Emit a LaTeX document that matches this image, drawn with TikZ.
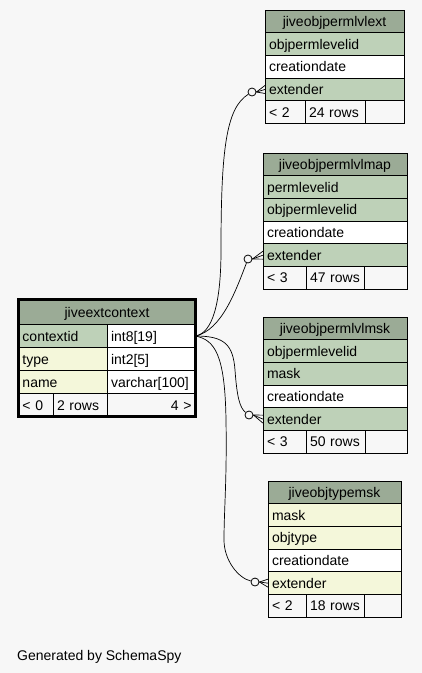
\documentclass[tikz,border=0pt]{standalone}
\usepackage{fontspec}
\setmainfont{Liberation Sans}
\definecolor{bggray}{HTML}{F7F7F7}
\definecolor{hdrgray}{HTML}{9BAB96}
\definecolor{pkgreen}{HTML}{BED1B8}
\definecolor{idxyellow}{HTML}{F4F7DA}
\tikzset{
  cell/.style={draw, line width=0.8pt, anchor=north west, inner xsep=4pt, inner ysep=0pt,
    outer sep=0pt, minimum height=22.7pt, text height=12pt, text depth=2pt, align=left},
  hdr/.style={cell, fill=hdrgray, align=center},
  pk/.style={cell, fill=pkgreen},
  idx/.style={cell, fill=idxyellow},
  plain/.style={cell, fill=white},
  foot/.style={cell, fill=bggray},
  zeroopt/.style={circle, draw, line width=0.8pt, inner sep=0pt, minimum size=8pt},
  rel/.style={line width=0.7pt}
}
\begin{document}
\begin{tikzpicture}[x=1pt,y=-1pt,font=\fontsize{14}{16}\selectfont]
  \fill[bggray] (0,0) rectangle (422,673);
  \useasboundingbox (0,0) rectangle (422,673);
  % jiveobjpermlvlext
  \node[hdr, text width=131pt] (t1h) at (265,10) {jiveobjpermlvlext};
  \foreach \txt/\sty [count=\i] in {objpermlevelid/pk, creationdate/plain, extender/pk}
    \node[\sty, text width=131pt] (t1r\i) at (265,{10+22.7*\i}) {\txt};
  \node[foot, text width=32pt] (t1f1) at (265,100.8) {< 2};
  \node[foot, text width=52pt] (t1f2) at (305,100.8) {24 rows};
  \node[foot, text width=31pt] (t1f3) at (365,100.8) {};
  % jiveobjpermlvlmap
  \node[hdr, text width=136pt] (t2h) at (263,153) {jiveobjpermlvlmap};
  \foreach \txt/\sty [count=\i] in {permlevelid/pk, objpermlevelid/pk, creationdate/plain, extender/pk}
    \node[\sty, text width=136pt] (t2r\i) at (263,{153+22.7*\i}) {\txt};
  \node[foot, text width=35pt] (t2f1) at (263,266.5) {< 3};
  \node[foot, text width=50pt] (t2f2) at (306,266.5) {47 rows};
  \node[foot, text width=35pt] (t2f3) at (364,266.5) {};
  % jiveobjpermlvlmsk
  \node[hdr, text width=136pt] (t3h) at (263,317) {jiveobjpermlvlmsk};
  \foreach \txt/\sty [count=\i] in {objpermlevelid/pk, mask/pk, creationdate/plain, extender/pk}
    \node[\sty, text width=136pt] (t3r\i) at (263,{317+22.7*\i}) {\txt};
  \node[foot, text width=35pt] (t3f1) at (263,430.5) {< 3};
  \node[foot, text width=51pt] (t3f2) at (306,430.5) {50 rows};
  \node[foot, text width=34pt] (t3f3) at (365,430.5) {};
  % jiveobjtypemsk
  \node[hdr, text width=125pt] (t4h) at (268,481) {jiveobjtypemsk};
  \foreach \txt/\sty [count=\i] in {mask/idx, objtype/idx, creationdate/plain, extender/idx}
    \node[\sty, text width=125pt] (t4r\i) at (268,{481+22.7*\i}) {\txt};
  \node[foot, text width=30pt] (t4f1) at (268,594.5) {< 2};
  \node[foot, text width=50pt] (t4f2) at (306,594.5) {18 rows};
  \node[foot, text width=29pt] (t4f3) at (364,594.5) {};
  % jiveextcontext
  \node[hdr, text width=169pt, minimum height=25pt] (mh) at (18.5,299.5) {jiveextcontext};
  \node[pk, text width=80.5pt, minimum height=23pt] (c1) at (18.5,324.5) {contextid};
  \node[plain, text width=80.5pt, minimum height=23pt] (k1) at (107,324.5) {int8[19]};
  \node[idx, text width=80.5pt, minimum height=23pt] (c2) at (18.5,347.5) {type};
  \node[plain, text width=80.5pt, minimum height=23pt] (k2) at (107,347.5) {int2[5]};
  \node[idx, text width=80.5pt, minimum height=23pt] (c3) at (18.5,370.5) {name};
  \node[plain, text width=80.5pt, minimum height=23pt] (k3) at (107,370.5) {varchar[100]};
  \node[foot, text width=26.5pt, minimum height=23pt] (mf1) at (18.5,393.5) {< 0};
  \node[foot, text width=46pt, minimum height=23pt] (mf2) at (53,393.5) {2 rows};
  \node[foot, text width=80.5pt, minimum height=23pt, align=right] (mf3) at (107,393.5) {4 >};
  \draw[line width=3pt] (mh.north west) rectangle (mf3.south east);
  % zero-or-many ends
  \node[zeroopt] (o1) at (252,92) {};
  \node[zeroopt] (o2) at (248,259) {};
  \node[zeroopt] (o3) at (249,415) {};
  \node[zeroopt] (o4) at (255,582) {};
  \foreach \o/\r in {o1/t1r3, o2/t2r4, o3/t3r4, o4/t4r4} {
    \draw[rel] (\o.east) -- ([yshift=4pt]\r.west);
    \draw[rel] (\o.east) -- (\r.west);
    \draw[rel] (\o.east) -- ([yshift=-4pt]\r.west);
  }
  % relations
  \draw[rel] (k1.east) .. controls (212,333) and (221,305) .. (221,250)
    .. controls (221,150) and (226,108) .. (o1);
  \draw[rel] (k1.east) .. controls (222,330) and (236,290) .. (o2);
  \draw[rel] (k1.east) .. controls (225,336) and (233,345) .. (235,370)
    .. controls (237,398) and (240,408) .. (o3);
  \draw[rel] (k1.east) .. controls (215,340) and (225,355) .. (226,420)
    .. controls (227,480) and (224,510) .. (224,540)
    .. controls (224,560) and (238,578) .. (o4);
  \node[anchor=base west, inner sep=0pt] (credit) at (17,660) {Generated by SchemaSpy};
\end{tikzpicture}
\end{document}
